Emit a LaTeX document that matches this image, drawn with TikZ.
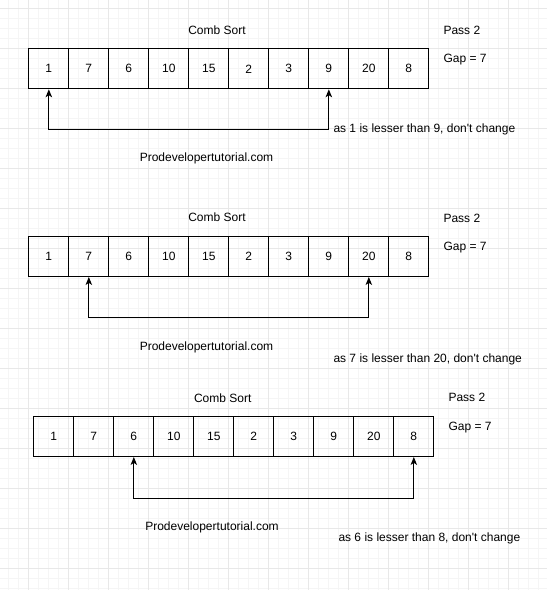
\documentclass[tikz,border=0pt]{standalone}
\usepackage{fontspec}
\setmainfont{Liberation Sans}
\usetikzlibrary{arrows.meta}
\tikzset{
  cell/.style={draw=black, line width=1pt, minimum width=40pt, minimum height=40pt, inner sep=0pt, anchor=north west},
  lbl/.style={inner sep=0pt, anchor=base, yshift=-4.3pt},
  lblw/.style={inner sep=0pt, anchor=base west, yshift=-4.3pt},
  conn/.style={draw=black, line width=1pt, {Stealth[length=8pt,width=6.5pt,inset=2.2pt]}-{Stealth[length=8pt,width=6.5pt,inset=2.2pt]}},
  minorgrid/.style={draw=black!4, line width=0.7pt},
  majorgrid/.style={draw=black!9, line width=0.7pt}
}
\begin{document}
\begin{tikzpicture}[x=1pt,y=-1pt,font=\fontsize{12}{14}\selectfont]
\useasboundingbox[fill=white] (0,0) rectangle (547,590);
% grid
\foreach \i in {0,...,53} \draw[minorgrid] ({8.33+10*\i},0) -- ++(0,590);
\foreach \j in {0,...,58} \draw[minorgrid] (0,{8.33+10*\j}) -- ++(547,0);
\foreach \i in {0,...,12} \draw[majorgrid] ({28.33+40*\i},0) -- ++(0,590);
\foreach \j in {0,...,14} \draw[majorgrid] (0,{8.33+40*\j}) -- ++(547,0);

% ---------- Section 1 ----------
\foreach \v [count=\i] in {1,7,6,10,15,2,3,9,20,8}
  \node[cell] (a\i) at ({28.33+40*(\i-1)},48.33) {\v};
\node[lbl] (t1) at (217,30) {Comb Sort};
\node[lblw] (p1) at (443.3,30) {Pass 2};
\node[lblw] (g1) at (443.3,58.3) {Gap = 7};
\node[lbl] (w1) at (206.5,156.7) {Prodevelopertutorial.com};
\node[lblw] (c1) at (333.3,128.3) {as 1 is lesser than 9, don\textquotesingle t change};
\draw[conn] (a1.south) -- ++(0,40) -| (a8.south);

% ---------- Section 2 ----------
\foreach \v [count=\i] in {1,7,6,10,15,2,3,9,20,8}
  \node[cell] (b\i) at ({28.33+40*(\i-1)},236) {\v};
\node[lbl] (t2) at (217,217.3) {Comb Sort};
\node[lblw] (p2) at (443.3,218.3) {Pass 2};
\node[lblw] (g2) at (443.3,246) {Gap = 7};
\node[lbl] (w2) at (206.5,345.7) {Prodevelopertutorial.com};
\node[lblw] (c2) at (333.3,357.7) {as 7 is lesser than 20, don\textquotesingle t change};
\draw[conn] (b2.south) -- ++(0,40) -| (b9.south);

% ---------- Section 3 ----------
\foreach \v [count=\i] in {1,7,6,10,15,2,3,9,20,8}
  \node[cell] (d\i) at ({33.33+40*(\i-1)},416) {\v};
\node[lbl] (t3) at (222.7,397.7) {Comb Sort};
\node[lblw] (p3) at (448.3,397.3) {Pass 2};
\node[lblw] (g3) at (448.3,425.7) {Gap = 7};
\node[lbl] (w3) at (212,525.7) {Prodevelopertutorial.com};
\node[lblw] (c3) at (338.3,537.3) {as 6 is lesser than 8, don\textquotesingle t change};
\draw[conn] (d3.south) -- ++(0,41.7) -| (d10.south);
\end{tikzpicture}
\end{document}
